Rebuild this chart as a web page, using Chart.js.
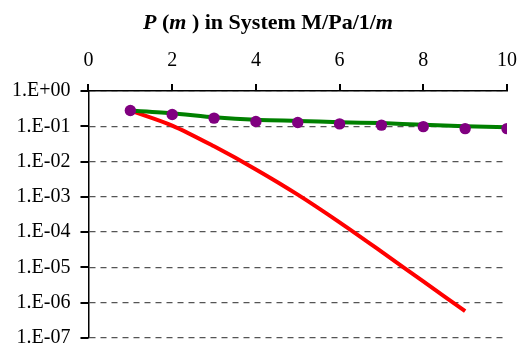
<!DOCTYPE html>
<html>
<head>
<meta charset="utf-8">
<script src="https://cdn.jsdelivr.net/npm/chart.js@4.4.1/dist/chart.umd.min.js"></script>
<style>
  body { margin: 0; background: #fff; }
  #wrap { position: relative; width: 520px; height: 349px; }
  #title {
    position: absolute; top: 9px; left: 8px; width: 520px;
    text-align: center; font: bold 22px "Liberation Serif", "Times New Roman", serif; color: #000;
  }
</style>
</head>
<body>
<div id="wrap">
  <div id="title"><i>P</i> (<i>m</i> ) in System M/Pa/1/<i>m</i></div>
  <canvas id="chartCanvas" width="520" height="349"></canvas>
</div>
<script>
// m values
var mValues = [1, 2, 3, 4, 5, 6, 7, 8, 9, 10];
// purple points (simulated P(m))
var pointValues = [0.28, 0.216, 0.17, 0.136, 0.128, 0.117, 0.108, 0.098, 0.086, 0.086];
// green curve
var greenValues = [0.28, 0.235, 0.18, 0.152, 0.142, 0.13, 0.123, 0.11, 0.1, 0.094];
// red curve (m = 1..9)
var redM = [1, 2, 3, 4, 5, 6, 7, 8, 9];
var redValues = [0.28, 0.105, 0.027, 0.006, 0.00116, 1.9e-4, 2.8e-5, 4.0e-6, 5.8e-7];
// axis ticks
var yTickValues = [1, 1e-1, 1e-2, 1e-3, 1e-4, 1e-5, 1e-6, 1e-7];
var xMin = 0, xMax = 10, xStep = 2;

function toXY(xs, ys) {
    return ys.map((y, i) => ({ x: xs[i], y: y }));
}

function fmtExp(v) {
    var e = Math.round(Math.log10(v));
    return '1.E' + (e < 0 ? '-' : '+') + String(Math.abs(e)).padStart(2, '0');
}

// short outward tick marks, drawn at the scale's own tick positions
var tickMarks = {
    id: 'tickMarks',
    afterDraw: function (chart) {
        var c = chart.ctx, xs = chart.scales.x, ys = chart.scales.y;
        var top = chart.chartArea.top, left = chart.chartArea.left;
        c.save();
        c.strokeStyle = '#000';
        c.lineWidth = 2;
        c.setLineDash([]);
        c.beginPath();
        xs.ticks.forEach(t => {
            var px = Math.round(xs.getPixelForValue(t.value));
            c.moveTo(px, top - 7);
            c.lineTo(px, top);
        });
        ys.ticks.forEach(t => {
            var py = Math.round(ys.getPixelForValue(t.value));
            c.moveTo(left - 8, py);
            c.lineTo(left, py);
        });
        c.stroke();
        c.restore();
    }
};

var ctx = document.getElementById('chartCanvas').getContext('2d');
var tickFont = { family: '"Liberation Serif", "Times New Roman", serif', size: 20, lineHeight: 1.1 };

var chart = new Chart(ctx, {
    type: 'line',
    data: {
        datasets: [{
            label: 'points',
            data: toXY(mValues, pointValues),
            showLine: false,
            pointRadius: 5.7,
            pointBackgroundColor: '#800080',
            pointBorderColor: '#800080',
            pointBorderWidth: 0,
            order: 0
        }, {
            label: 'green',
            data: toXY(mValues, greenValues),
            borderColor: '#008000',
            borderWidth: 4,
            pointRadius: 0,
            tension: 0.2,
            order: 1
        }, {
            label: 'red',
            data: toXY(redM, redValues),
            borderColor: '#ff0000',
            borderWidth: 4,
            pointRadius: 0,
            tension: 0.3,
            order: 2
        }]
    },
    options: {
        responsive: false,
        animation: false,
        layout: { padding: { top: 50, left: 12, right: 13, bottom: 0 } },
        plugins: { legend: { display: false }, tooltip: { enabled: false } },
        scales: {
            x: {
                type: 'linear',
                position: 'top',
                min: xMin,
                max: xMax,
                ticks: { stepSize: xStep, color: '#000', font: tickFont, padding: 0 },
                // tickLength only sets the label gap; the visible marks come from the plugin
                grid: { drawOnChartArea: false, drawTicks: true, tickLength: 19, tickColor: 'rgba(0,0,0,0)' },
                border: { color: '#000', width: 1.5 }
            },
            y: {
                type: 'logarithmic',
                min: 1e-7,
                max: 1,
                afterBuildTicks: function (axis) {
                    axis.ticks = yTickValues.map(v => ({ value: v }));
                },
                ticks: {
                    color: '#000', font: tickFont, padding: 0,
                    callback: function (v) { return fmtExp(v); }
                },
                grid: { color: '#555', lineWidth: 1.3, tickLength: 18, tickColor: 'rgba(0,0,0,0)' },
                border: { color: '#000', width: 1.5, dash: [6, 5] }
            }
        }
    },
    plugins: [tickMarks]
});
</script>
</body>
</html>
